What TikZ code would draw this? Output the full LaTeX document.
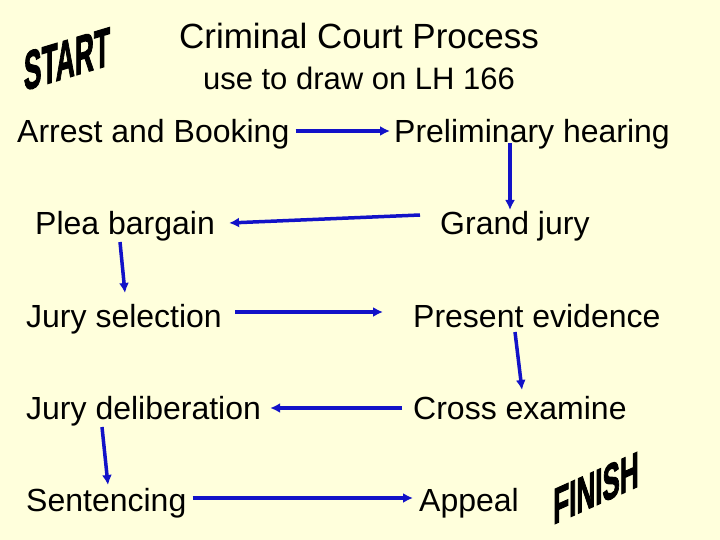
\documentclass[tikz,border=0pt]{standalone}
\usepackage{fontspec}
\setmainfont{Liberation Sans}
\newfontfamily\wordartfont{Liberation Sans}[BoldFeatures={FakeBold=2.5}]
\usepackage{tikz}
\usetikzlibrary{arrows.meta}
\definecolor{PaleYellow}{HTML}{FFFFDC}
\definecolor{FlowBlue}{HTML}{1212C8}

\begin{document}
\begin{tikzpicture}[
		x=1pt, y=-1pt,
		StepText/.style={anchor=base west, inner sep=0pt, font=\fontsize{32}{38}\selectfont},
		Flow/.style={draw=FlowBlue, line width=3.5pt, -{Latex[length=10pt, width=10pt]}},
		WordArt/.style={inner sep=0pt, transform shape, font=\fontsize{#1}{#1}\selectfont\wordartfont\bfseries}
		]
		
		\fill[PaleYellow] (0,0) rectangle (720,540);
		\useasboundingbox (0,0) rectangle (720,540);
		
		\node[font=\fontsize{35}{40}\selectfont, anchor=base, inner sep=0pt] (title) at (359,49) {Criminal Court Process};
		\node[font=\fontsize{31}{36}\selectfont, anchor=base, inner sep=0pt] (subtitle) at (359,90) {use to draw on LH 166};
		
		% left column
		\node[StepText] (arrest) at (17,142.5) {Arrest and Booking};
		\node[StepText] (plea) at (35,235) {Plea bargain};
		\node[StepText] (jurysel) at (26,327) {Jury selection};
		\node[StepText] (delib) at (26,419) {Jury deliberation};
		\node[StepText] (sentencing) at (26,511) {Sentencing};
		
		% right column
		\node[StepText] (prelim) at (394,142.5) {Preliminary hearing};
		\node[StepText] (grand) at (440,235) {Grand jury};
		\node[StepText] (present) at (413,327) {Present evidence};
		\node[StepText] (cross) at (413,419) {Cross examine};
		\node[StepText] (appeal) at (419,511) {Appeal};
		
		\draw[Flow] ([shift={(6,-11.5)}]arrest.base east) -- ([shift={(-4,-11.5)}]prelim.base west);
		\draw[Flow] ([shift={(116,1)}]prelim.base west) -- ([shift={(70,-25)}]grand.base west);
		\draw[Flow] ([shift={(-20,-20)}]grand.base west) -- ([shift={(14,-12)}]plea.base east);
		\draw[Flow] ([shift={(85,7)}]plea.base west) -- ([shift={(99,-34)}]jurysel.base west);
		\draw[Flow] ([shift={(13,-15)}]jurysel.base east) -- ([shift={(-30,-15)}]present.base west);
		\draw[Flow] ([shift={(102,5)}]present.base west) -- ([shift={(109,-29)}]cross.base west);
		\draw[Flow] ([shift={(-11,-11)}]cross.base west) -- ([shift={(9,-11)}]delib.base east);
		\draw[Flow] ([shift={(76,8)}]delib.base west) -- ([shift={(82,-26)}]sentencing.base west);
		\draw[Flow] ([shift={(6,-13)}]sentencing.base east) -- ([shift={(-6,-13)}]appeal.base west);
		
		% START and FINISH
		\begin{scope}[shift={(67,59)}, yslant=0.3, xscale=0.63, yscale=1.3]
		\node[WordArt=42] (start) at (0,0) {START};
		\end{scope}
		\begin{scope}[shift={(596,488)}, yslant=0.45, xscale=0.62, yscale=1.2]
		\node[WordArt=42] (finish) at (0,0) {FINISH};
		\end{scope}
		
\end{tikzpicture}
\end{document}
